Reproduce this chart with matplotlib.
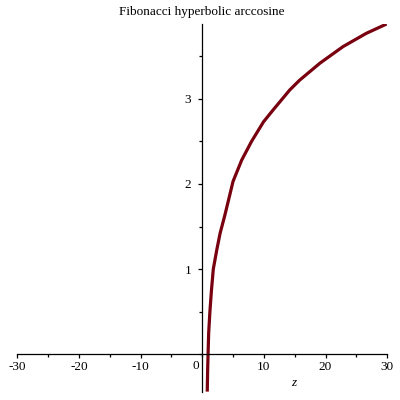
import matplotlib
matplotlib.use("Agg")
import matplotlib.pyplot as plt
from matplotlib.ticker import MultipleLocator

# values
z_values = [0.82, 0.88, 0.95, 1.05, 1.25, 1.5, 1.8, 2.35, 2.9, 3.68, 4.3, 5.0,
            6.4, 8.0, 9.94, 11.5, 14.2, 15.8, 19.1, 22.85, 26.6, 29.9]
y_values = [-0.44, -0.2, 0.0, 0.25, 0.5, 0.75, 1.0, 1.22, 1.42, 1.635, 1.82, 2.03,
            2.28, 2.5, 2.73, 2.87, 3.105, 3.22, 3.42, 3.615, 3.77, 3.88]

x_ticks = [-30, -20, -10, 10, 20, 30]
x_tick_labels = ['-30', '-20', '-10', '10', '20', '30']
y_ticks = [1, 2, 3]
y_tick_labels = ['1', '2', '3']
title = 'Fibonacci hyperbolic arccosine'

plt.rcParams['font.family'] = ['Liberation Serif', 'DejaVu Serif']

fig = plt.figure(figsize=(4, 4), dpi=100)
ax = fig.add_axes([0.043, 0.021, 0.925, 0.919])

ax.plot(z_values, y_values, color='#78000f', linewidth=2.3, solid_capstyle='butt')

ax.set_xlim(-30, 30)
ax.set_ylim(-0.44, 3.88)

ax.spines['left'].set_position(('data', 0))
ax.spines['bottom'].set_position(('data', 0))
ax.spines['top'].set_visible(False)
ax.spines['right'].set_visible(False)
for s in ('left', 'bottom'):
    ax.spines[s].set_linewidth(0.9)

ax.set_xticks(x_ticks)
ax.set_xticklabels(x_tick_labels)
ax.set_yticks(y_ticks)
ax.set_yticklabels(y_tick_labels)
ax.xaxis.set_minor_locator(MultipleLocator(5))
ax.yaxis.set_minor_locator(MultipleLocator(0.5))
ax.tick_params(which='major', direction='out', length=3, width=0.9, labelsize=9.5, pad=2)
ax.tick_params(which='minor', direction='out', length=2, width=0.9)
ax.tick_params(axis='y', pad=5)

ax.text(-1.1, -0.07, '0', ha='center', va='top', fontsize=9.5)
ax.text(14.8, -0.27, 'z', ha='center', va='top', fontsize=9.5, style='italic')
fig.text(0.505, 0.986, title, ha='center', va='top', fontsize=9.5)

fig.savefig('out.png', dpi=100)
